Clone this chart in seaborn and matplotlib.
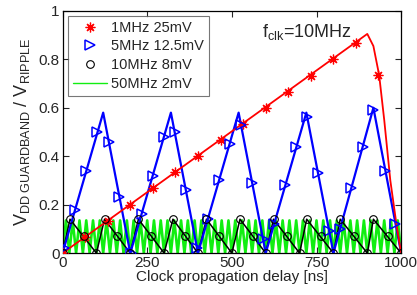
import matplotlib
matplotlib.use('Agg')
import matplotlib.pyplot as plt
import seaborn as sns
import pandas as pd

# 1MHz 25mV (red)
red_line_x = [0, 900, 918, 935, 950, 968, 987, 1000]
red_line_y = [0, 0.905, 0.855, 0.735, 0.55, 0.30, 0.11, 0]
red_mark_x = [0, 67, 133, 200, 267, 333, 400, 467, 533, 600, 667, 733, 800, 867, 933]
red_mark_y = [0, 0.067, 0.133, 0.2, 0.267, 0.333, 0.4, 0.467, 0.533, 0.6, 0.667, 0.733, 0.8, 0.867, 0.735]

# 5MHz 12.5mV (blue)
blue_line_x = [0, 120, 200, 320, 400, 520, 600, 720, 800, 918, 1000]
blue_line_y = [0, 0.58, 0, 0.58, 0, 0.58, 0, 0.58, 0, 0.60, 0]
blue_mark_x = [5, 38, 70, 103, 136, 168, 201, 234, 266, 299, 331, 364, 397, 429, 462, 494,
               527, 560, 592, 625, 657, 690, 723, 755, 788, 820, 853, 886, 918, 951, 983]
blue_mark_y = [0.02, 0.18, 0.34, 0.50, 0.46, 0.23, 0.0, 0.16, 0.32, 0.48, 0.50, 0.26, 0.02,
               0.14, 0.30, 0.45, 0.53, 0.29, 0.06, 0.12, 0.28, 0.44, 0.56, 0.33, 0.09,
               0.10, 0.27, 0.44, 0.59, 0.34, 0.12]

# 10MHz 8mV (black)
black_line_x = [0, 22, 100, 124, 200, 224, 300, 326, 400, 425, 500, 524, 600, 623, 700,
                721, 800, 820, 900, 918, 1000]
black_line_y = [0, 0.14, 0, 0.14, 0, 0.14, 0, 0.14, 0, 0.14, 0, 0.14, 0, 0.14, 0,
                0.14, 0, 0.14, 0, 0.14, 0]
black_mark_x = [0, 22, 62, 100, 124, 162, 200, 224, 262, 300, 326, 362, 400, 425, 462, 500,
                524, 562, 600, 623, 662, 700, 721, 762, 800, 820, 862, 900, 918, 962, 1000]
black_mark_y = [0, 0.14, 0.07, 0, 0.14, 0.07, 0, 0.14, 0.07, 0, 0.14, 0.07, 0, 0.14, 0.07, 0,
                0.14, 0.07, 0, 0.14, 0.07, 0, 0.14, 0.07, 0, 0.14, 0.07, 0, 0.14, 0.07, 0]

# 50MHz 2mV (green), 20 ns period between trough and crest
green_x = list(range(0, 1001, 10))
green_y = [0.0, 0.135] * 50 + [0.0]

legend_labels = ['1MHz 25mV', '5MHz 12.5mV', '10MHz 8mV', '50MHz 2mV']

sns.set_style('white')
plt.rcParams['font.family'] = ['Liberation Sans', 'DejaVu Sans']
plt.rcParams['mathtext.fontset'] = 'custom'
plt.rcParams['mathtext.rm'] = 'Liberation Sans'
plt.rcParams['mathtext.it'] = 'Liberation Sans:italic'

fig = plt.figure(figsize=(4.17, 2.95), dpi=100)
ax = fig.add_axes([0.150, 0.142, 0.812, 0.821])

green = pd.DataFrame({'x': green_x, 'y': green_y})
sns.lineplot(data=green, x='x', y='y', ax=ax, color='#11ee11', linewidth=1.9,
             sort=False, estimator=None, zorder=1)

sns.lineplot(x=red_line_x, y=red_line_y, ax=ax, color='red', linewidth=1.3,
             sort=False, estimator=None, zorder=4)
sns.lineplot(x=blue_line_x, y=blue_line_y, ax=ax, color='blue', linewidth=1.6,
             sort=False, estimator=None, zorder=3)
sns.lineplot(x=black_line_x, y=black_line_y, ax=ax, color='black', linewidth=1.1,
             sort=False, estimator=None, zorder=2)

h_red, = ax.plot(red_mark_x, red_mark_y, linestyle='none', marker=(8, 2, 0), color='red',
                 markersize=7, markeredgewidth=0.9, zorder=5)
h_blue, = ax.plot(blue_mark_x, blue_mark_y, linestyle='none', marker='>', color='blue',
                  markerfacecolor='none', markersize=7, markeredgewidth=1.1, zorder=5)
h_black, = ax.plot(black_mark_x, black_mark_y, linestyle='none', marker='o', color='black',
                   markerfacecolor='none', markersize=5.5, markeredgewidth=0.8, zorder=5)
h_green, = ax.plot([], [], color='#11ee11', linewidth=1.0)

leg = ax.legend([h_red, h_blue, h_black, h_green], legend_labels, loc='upper left',
                bbox_to_anchor=(0.008, 0.993), fontsize=10.5, frameon=True, fancybox=False,
                edgecolor='#555555', handlelength=2.3, handletextpad=0.3,
                borderpad=0.35, labelspacing=0.32, borderaxespad=0.2)
leg.get_frame().set_linewidth(0.8)

ax.text(722, 0.915, r'f$_{\rm clk}$=10MHz', fontsize=13, ha='center', va='center')

ax.set_xlim(0, 1000)
ax.set_ylim(0, 1)
ax.set_xticks([0, 250, 500, 750, 1000])
ax.set_yticks([0, 0.2, 0.4, 0.6, 0.8, 1.0])
ax.set_yticklabels(['0', '0.2', '0.4', '0.6', '0.8', '1'])
ax.tick_params(direction='in', length=4, width=0.8, labelsize=11, top=True, right=True,
               bottom=True, left=True, pad=2)
for s in ax.spines.values():
    s.set_color('black')
    s.set_linewidth(0.9)

ax.set_xlabel('Clock propagation delay [ns]', fontsize=11, labelpad=0)
ax.set_ylabel(r'V$_{\rm DD\ GUARDBAND}$ / V$_{\rm RIPPLE}$', fontsize=13, labelpad=5)

fig.savefig('out.png', dpi=100)
